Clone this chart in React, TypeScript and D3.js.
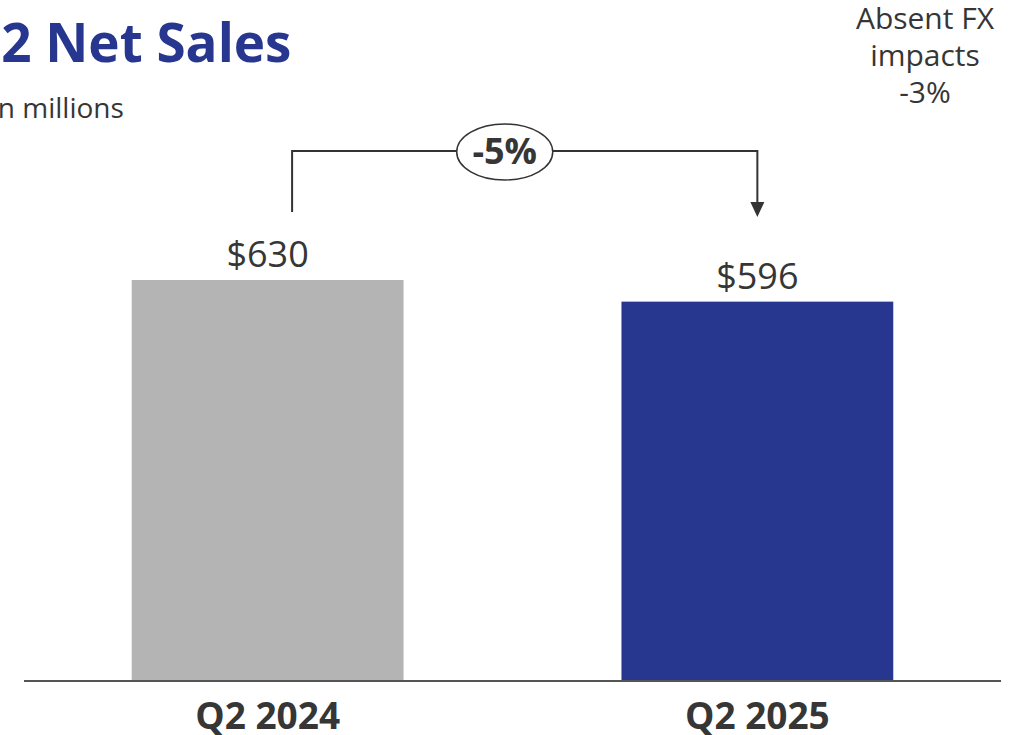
import React, { useRef, useEffect } from "react";
import * as d3 from "d3";

const categories = ["Q2 2024", "Q2 2025"];
const sales = [630, 596];
const valueLabels = ["$630", "$596"];
const barColors = ["#b3b4b3", "#27368f"];
const changeLabel = "-5%";
const noteLines = ["Absent FX", "impacts", "-3%"];
const title = "Q2 Net Sales";
const subtitle = "In millions";

const W = 1030;
const H = 735;
const FONT = "'Open Sans', 'Noto Sans', sans-serif";
const TEXT = "#363636";

const App = () => {
  const ref = useRef<SVGSVGElement | null>(null);

  useEffect(() => {
    const svg = d3.select(ref.current);
    svg.selectAll("*").remove();

    const baseline = 681;
    const x = d3
      .scaleBand<string>()
      .domain(categories)
      .range([24, 1001])
      .paddingInner(0.445)
      .paddingOuter(0.22);
    const y = d3.scaleLinear().domain([0, 630]).range([baseline, 280]);

    // title + subtitle (cropped on the left like the slide)
    svg
      .append("text")
      .attr("x", -41)
      .attr("y", 62)
      .attr("font-family", FONT)
      .attr("font-weight", 700)
      .attr("font-size", 53)
      .attr("fill", "#27368f")
      .text(title);

    svg
      .append("text")
      .attr("x", -10)
      .attr("y", 118)
      .attr("font-family", FONT)
      .attr("font-size", 28)
      .attr("fill", TEXT)
      .text(subtitle);

    // bars
    svg
      .selectAll("rect.bar")
      .data(sales)
      .enter()
      .append("rect")
      .attr("class", "bar")
      .attr("x", (d, i) => x(categories[i])!)
      .attr("y", (d) => y(d))
      .attr("width", x.bandwidth())
      .attr("height", (d) => baseline - y(d))
      .attr("fill", (d, i) => barColors[i]);

    svg
      .selectAll("text.value")
      .data(sales)
      .enter()
      .append("text")
      .attr("class", "value")
      .attr("x", (d, i) => x(categories[i])! + x.bandwidth() / 2)
      .attr("y", (d) => y(d) - 13)
      .attr("text-anchor", "middle")
      .attr("font-family", FONT)
      .attr("font-size", 36)
      .attr("fill", TEXT)
      .text((d, i) => valueLabels[i]);

    // baseline
    svg
      .append("line")
      .attr("x1", 24)
      .attr("x2", 1001)
      .attr("y1", baseline)
      .attr("y2", baseline)
      .attr("stroke", "#555")
      .attr("stroke-width", 2);

    svg
      .selectAll("text.cat")
      .data(categories)
      .enter()
      .append("text")
      .attr("class", "cat")
      .attr("x", (d) => x(d)! + x.bandwidth() / 2)
      .attr("y", 729)
      .attr("text-anchor", "middle")
      .attr("font-family", FONT)
      .attr("font-weight", 700)
      .attr("font-size", 37)
      .attr("fill", TEXT)
      .text((d) => d);

    // change bracket
    const bx1 = x(categories[0])! + x.bandwidth() * 0.59;
    const bx2 = x(categories[1])! + x.bandwidth() / 2;
    const by = 151;
    svg
      .append("path")
      .attr("d", `M${bx1},212 V${by} H${bx2} V205`)
      .attr("fill", "none")
      .attr("stroke", "#333")
      .attr("stroke-width", 2);
    svg
      .append("path")
      .attr("d", `M${bx2 - 7},202 L${bx2 + 7},202 L${bx2},217 Z`)
      .attr("fill", "#333");

    const cx = (bx1 + bx2) / 2 - 20;
    svg
      .append("ellipse")
      .attr("cx", cx)
      .attr("cy", 152)
      .attr("rx", 48)
      .attr("ry", 28)
      .attr("fill", "#fff")
      .attr("stroke", "#333")
      .attr("stroke-width", 1.5);
    svg
      .append("text")
      .attr("x", cx)
      .attr("y", 164)
      .attr("text-anchor", "middle")
      .attr("font-family", FONT)
      .attr("font-weight", 700)
      .attr("font-size", 36)
      .attr("fill", TEXT)
      .text(changeLabel);

    // FX note
    svg
      .selectAll("text.note")
      .data(noteLines)
      .enter()
      .append("text")
      .attr("class", "note")
      .attr("x", 925)
      .attr("y", (d, i) => 29 + i * 37)
      .attr("text-anchor", "middle")
      .attr("font-family", FONT)
      .attr("font-size", 30)
      .attr("fill", TEXT)
      .text((d) => d);
  }, []);

  return (
    <svg
      ref={ref}
      width={W}
      height={H}
      style={{ position: "absolute", left: 0, top: 0, background: "#fff" }}
    />
  );
};

export default App;
